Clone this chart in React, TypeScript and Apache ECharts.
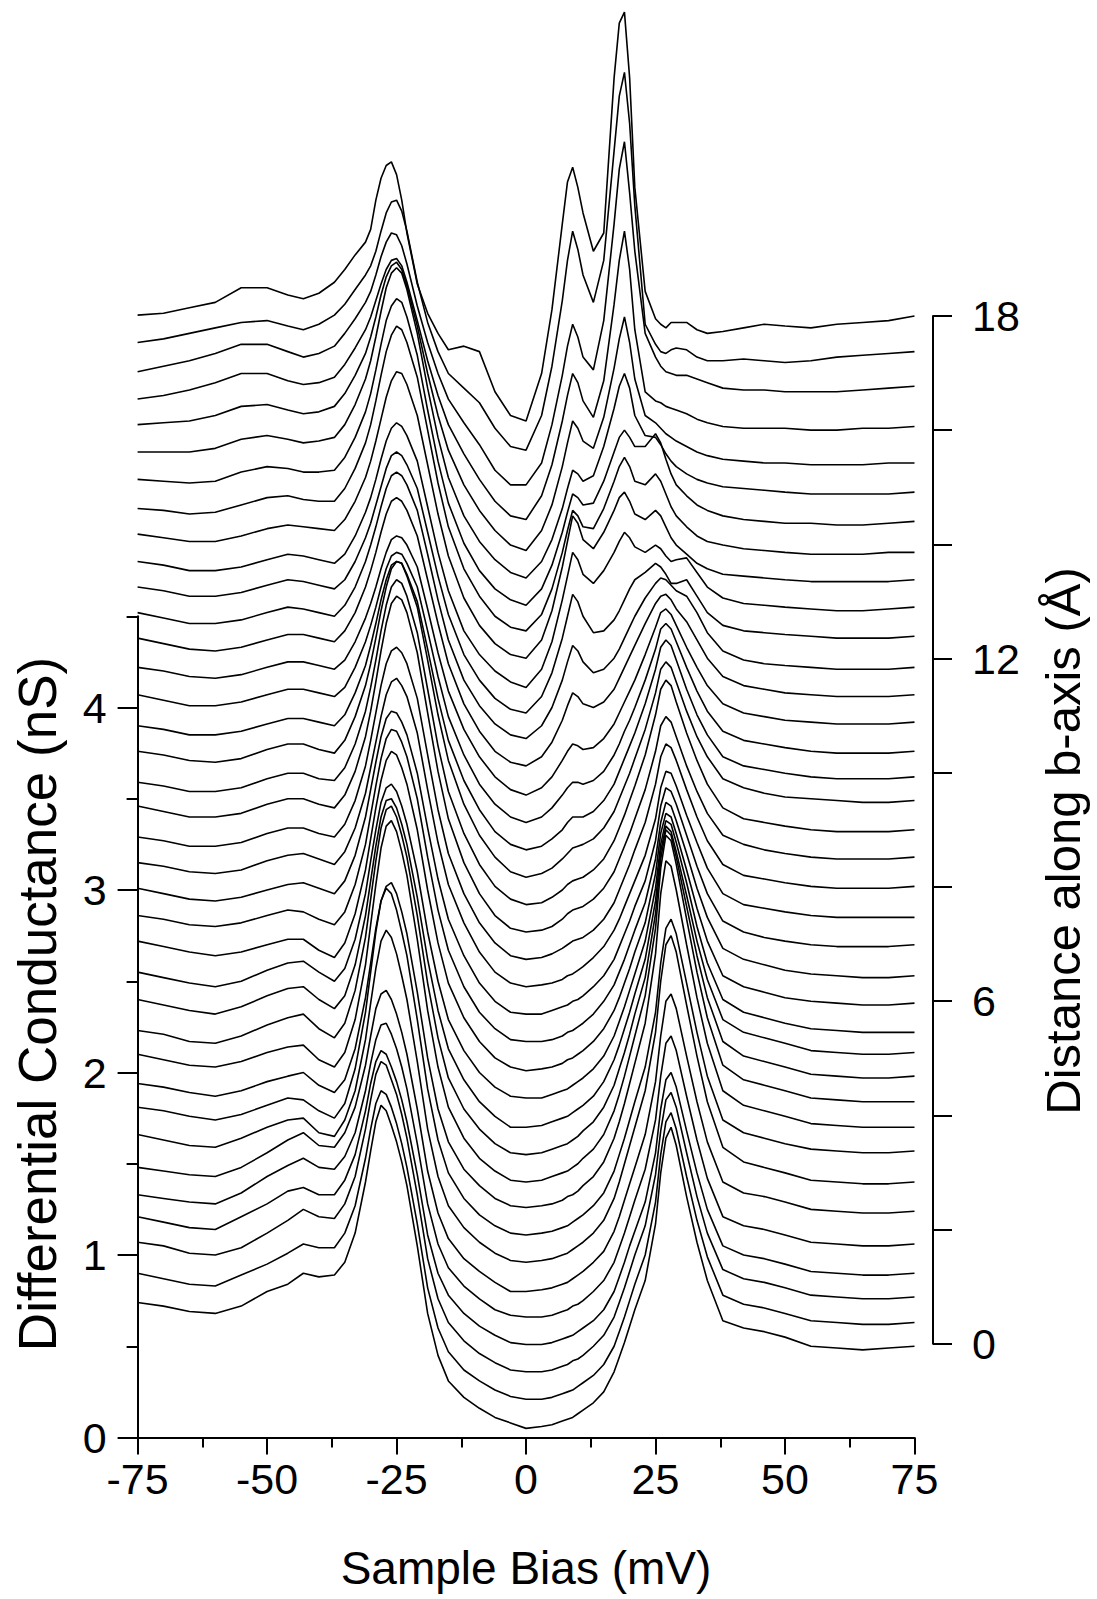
import React, { useEffect, useRef } from "react";
import * as echarts from "echarts";

const biasMV = [-75,-70,-65,-60,-55,-50,-46,-43,-40,-37,-35,-33,-31,-30,-29,-28,-27,-26,-25,-24,-23,-21,-19,-17,-15,-12,-9,-6,-3,0,3,5,7,8,9,10,11,13,15,17,18,19,20,21,23,25,26,27,28,29,31,33,35,38,42,46,50,55,60,65,70,75];

// Position along b-axis (Å) of each spectrum, bottom to top
const distanceA = [0,0.5,1,1.5,2,2.5,3,3.5,4,4.5,5,5.5,6,6.5,7,7.5,8,8.5,9,9.5,10,10.5,11,11.5,12,12.5,13,13.5,14,14.5,15,15.5,16,16.5,17,17.5,18];

// Vertical waterfall offset (nS) of each spectrum
const offsetNS = [0,0.15,0.3,0.45,0.6,0.75,0.9,1.05,1.2,1.35,1.5,1.65,1.8,1.95,2.1,2.25,2.4,2.55,2.7,2.85,3,3.15,3.3,3.45,3.6,3.75,3.9,4.05,4.2,4.35,4.5,4.65,4.8,4.95,5.1,5.25,5.4];

// Differential conductance (nS) of each spectrum, before offset
const curve00 = [0.74,0.72,0.69,0.68,0.72,0.80,0.84,0.90,0.88, 0.89,0.96,1.12,1.40, 1.57,1.73,1.82,1.79,1.71,1.62,1.51,1.38, 1.05,0.68,0.45,0.31, 0.22,0.16,0.11,0.08,0.05, 0.06,0.07,0.09,0.10,0.11,0.13,0.15, 0.19,0.25,0.36,0.44,0.52,0.61,0.70, 0.86,1.17,1.45,1.64,1.70,1.60, 1.32,1.07,0.86,0.64,0.60,0.58,0.55, 0.50,0.49,0.48,0.49,0.50];
const curve01 = [0.75,0.72,0.69,0.68,0.74,0.80,0.86,0.91,0.89, 0.89,0.97,1.12,1.38, 1.54,1.68,1.75,1.73,1.66,1.57,1.46,1.33, 1.02,0.67,0.45,0.32, 0.22,0.16,0.11,0.075,0.06, 0.06,0.07,0.09,0.10,0.11,0.13,0.15, 0.19,0.25,0.35,0.43,0.51,0.60,0.69, 0.85,1.14,1.40,1.58,1.63,1.54, 1.28,1.04,0.84,0.63,0.58,0.56,0.53, 0.49,0.48,0.47,0.47,0.48];
const curve02 = [0.77,0.75,0.71,0.70,0.74,0.82,0.89,0.95,0.91, 0.90,0.98,1.13,1.39, 1.55,1.69,1.76,1.74,1.66,1.58,1.47,1.34, 1.03,0.68,0.46,0.33, 0.23,0.16,0.11,0.07,0.06, 0.06,0.07,0.09,0.10,0.12,0.13,0.15, 0.20,0.26,0.36,0.44,0.52,0.61,0.70, 0.86,1.14,1.38,1.55,1.59,1.51, 1.26,1.02,0.82,0.62,0.57,0.55,0.52, 0.48,0.47,0.46,0.46,0.47];
const curve03 = [0.76,0.73,0.70,0.69,0.76,0.83,0.90,0.92,0.88, 0.88,0.96,1.10,1.34, 1.49,1.61,1.67,1.65,1.58,1.50,1.40,1.28, 0.99,0.66,0.45,0.33, 0.23,0.16,0.11,0.07,0.06, 0.06,0.07,0.09,0.10,0.11,0.13,0.15, 0.19,0.25,0.35,0.43,0.51,0.60,0.68, 0.84,1.11,1.35,1.51,1.55,1.47, 1.23,1.00,0.80,0.60,0.55,0.53,0.50, 0.46,0.45,0.44,0.44,0.45];
const curve04 = [0.73,0.71,0.69,0.68,0.74,0.83,0.89,0.93,0.88, 0.87,0.94,1.07,1.30, 1.45,1.58,1.66,1.67,1.61,1.53,1.43,1.31, 1.01,0.68,0.46,0.33, 0.23,0.16,0.10,0.07,0.06, 0.06,0.07,0.09,0.10,0.12,0.13,0.15, 0.20,0.26,0.36,0.44,0.52,0.61,0.70, 0.87,1.14,1.38,1.56,1.60,1.52, 1.27,1.03,0.82,0.61,0.56,0.54,0.51, 0.47,0.46,0.45,0.45,0.46];
const curve05 = [0.73,0.71,0.69,0.68,0.73,0.81,0.88,0.92,0.85, 0.84,0.92,1.06,1.29, 1.45,1.60,1.68,1.70,1.65,1.57,1.47,1.35, 1.05,0.71,0.48,0.34, 0.23,0.16,0.10,0.05,0.05, 0.06,0.07,0.09,0.10,0.12,0.14,0.16, 0.21,0.27,0.38,0.46,0.55,0.64,0.73, 0.91,1.20,1.45,1.64,1.68,1.60, 1.34,1.09,0.87,0.65,0.59,0.57,0.54, 0.50,0.49,0.48,0.48,0.49];
const curve06 = [0.76,0.73,0.70,0.69,0.74,0.80,0.84,0.85,0.77, 0.75,0.84,1.00,1.28, 1.48,1.67,1.82,1.88,1.84,1.75,1.63,1.50, 1.16,0.79,0.53,0.37, 0.25,0.17,0.11,0.07,0.06, 0.07,0.08,0.10,0.11,0.13,0.15,0.17, 0.22,0.29,0.41,0.50,0.60,0.70,0.80, 1.00,1.32,1.60,1.80,1.85,1.76, 1.47,1.19,0.94,0.69,0.61,0.58,0.55, 0.51,0.50,0.49,0.49,0.50];
const curve07 = [0.76,0.74,0.71,0.69,0.72,0.77,0.81,0.80,0.74, 0.70,0.78,0.97,1.28, 1.50,1.72,1.89,1.96,1.93,1.84,1.72,1.59, 1.24,0.86,0.58,0.40, 0.26,0.17,0.11,0.07,0.06, 0.07,0.08,0.10,0.11,0.13,0.15,0.17, 0.22,0.29,0.41,0.50,0.59,0.69,0.79, 0.98,1.28,1.55,1.74,1.79,1.71, 1.44,1.17,0.93,0.69,0.62,0.59,0.56, 0.53,0.52,0.51,0.51,0.52];
const curve08 = [0.74,0.72,0.69,0.67,0.70,0.75,0.78,0.80,0.73, 0.69,0.76,0.93,1.21, 1.40,1.59,1.74,1.82,1.84,1.78,1.68,1.56, 1.24,0.88,0.60,0.42, 0.27,0.18,0.11,0.07,0.06, 0.07,0.08,0.10,0.12,0.13,0.15,0.18, 0.23,0.31,0.44,0.53,0.63,0.74,0.85, 1.07,1.45,1.78,1.96,1.93,1.80, 1.50,1.21,0.96,0.70,0.62,0.59,0.56, 0.52,0.51,0.50,0.50,0.50];
const curve09 = [0.75,0.72,0.69,0.68,0.71,0.76,0.79,0.80,0.72, 0.68,0.76,0.94,1.24, 1.46,1.68,1.88,2.00,2.03,1.97,1.86,1.73, 1.38,0.99,0.68,0.46, 0.29,0.18,0.11,0.06,0.05, 0.06,0.08,0.10,0.11,0.13,0.15,0.18, 0.23,0.31,0.44,0.53,0.63,0.74,0.85, 1.07,1.44,1.77,1.95,1.92,1.79, 1.49,1.20,0.95,0.69,0.61,0.58,0.55, 0.51,0.50,0.49,0.49,0.49];
const curve10 = [0.73,0.71,0.67,0.66,0.70,0.76,0.80,0.82,0.74, 0.69,0.77,0.95,1.24, 1.45,1.66,1.84,1.94,1.96,1.90,1.80,1.68, 1.36,0.99,0.69,0.47, 0.30,0.19,0.11,0.06,0.05, 0.06,0.08,0.10,0.11,0.13,0.15,0.18, 0.23,0.31,0.43,0.52,0.61,0.71,0.82, 1.02,1.37,1.67,1.83,1.80,1.68, 1.41,1.14,0.91,0.67,0.59,0.56,0.53, 0.49,0.48,0.47,0.47,0.48];
const curve11 = [0.75,0.72,0.69,0.67,0.71,0.77,0.81,0.82,0.75, 0.70,0.77,0.94,1.21, 1.40,1.59,1.75,1.84,1.85,1.80,1.71,1.60, 1.31,0.97,0.69,0.48, 0.31,0.19,0.11,0.05,0.05, 0.06,0.08,0.10,0.11,0.13,0.15,0.17, 0.22,0.30,0.42,0.50,0.59,0.68,0.78, 0.97,1.29,1.56,1.70,1.67,1.56, 1.32,1.07,0.86,0.64,0.57,0.54,0.51, 0.47,0.46,0.45,0.45,0.46];
const curve12 = [0.75,0.72,0.69,0.67,0.70,0.76,0.80,0.81,0.75, 0.70,0.77,0.93,1.18, 1.36,1.53,1.68,1.76,1.78,1.74,1.66,1.56, 1.30,0.97,0.70,0.49, 0.32,0.20,0.12,0.07,0.06, 0.06,0.08,0.10,0.11,0.13,0.15,0.17, 0.22,0.29,0.40,0.48,0.56,0.65,0.74, 0.92,1.21,1.45,1.58,1.56,1.46, 1.24,1.00,0.80,0.60,0.53,0.50,0.47, 0.44,0.43,0.42,0.42,0.42];
const curve13 = [0.77,0.74,0.71,0.69,0.71,0.75,0.78,0.78,0.72, 0.68,0.76,0.92,1.16, 1.33,1.50,1.65,1.76,1.81,1.79,1.72,1.63, 1.38,1.05,0.76,0.54, 0.35,0.22,0.13,0.08,0.06, 0.07,0.08,0.10,0.12,0.13,0.15,0.17, 0.22,0.29,0.39,0.46,0.54,0.62,0.71, 0.87,1.14,1.36,1.47,1.45,1.36, 1.16,0.95,0.77,0.58,0.52,0.49,0.46, 0.44,0.43,0.42,0.42,0.43];
const curve14 = [0.76,0.74,0.71,0.70,0.72,0.76,0.79,0.78,0.74, 0.71,0.78,0.93,1.15, 1.31,1.47,1.62,1.73,1.78,1.77,1.71,1.63, 1.40,1.08,0.79,0.57, 0.37,0.23,0.14,0.08,0.07, 0.07,0.08,0.10,0.12,0.13,0.15,0.17, 0.22,0.29,0.38,0.45,0.52,0.60,0.68, 0.83,1.07,1.27,1.38,1.36,1.28, 1.10,0.91,0.75,0.58,0.52,0.49,0.46, 0.44,0.43,0.42,0.42,0.43];
const curve15 = [0.76,0.73,0.70,0.69,0.71,0.75,0.78,0.79,0.76, 0.73,0.80,0.94,1.15, 1.30,1.45,1.59,1.69,1.73,1.72,1.67,1.60, 1.39,1.09,0.81,0.59, 0.39,0.24,0.14,0.08,0.07, 0.07,0.09,0.11,0.12,0.14,0.15,0.17, 0.22,0.28,0.37,0.44,0.51,0.58,0.66, 0.80,1.02,1.21,1.31,1.29,1.22, 1.05,0.88,0.73,0.58,0.52,0.49,0.47, 0.45,0.44,0.44,0.44,0.45];
const curve16 = [0.75,0.73,0.70,0.69,0.71,0.76,0.79,0.80,0.77, 0.74,0.81,0.94,1.13, 1.27,1.41,1.55,1.67,1.74,1.76,1.72,1.66, 1.46,1.15,0.86,0.63, 0.42,0.26,0.15,0.09,0.07, 0.08,0.09,0.11,0.13,0.14,0.16,0.18, 0.23,0.29,0.38,0.44,0.51,0.58,0.65, 0.79,0.99,1.16,1.25,1.24,1.17, 1.01,0.86,0.72,0.58,0.52,0.50,0.48, 0.46,0.45,0.45,0.45,0.45];
const curve17 = [0.74,0.72,0.69,0.69,0.71,0.76,0.79,0.79,0.76, 0.74,0.81,0.94,1.13, 1.27,1.42,1.57,1.69,1.76,1.78,1.75,1.69, 1.50,1.19,0.89,0.65, 0.43,0.27,0.16,0.09,0.07, 0.08,0.10,0.13,0.15,0.17,0.18,0.19, 0.23,0.29,0.38,0.45,0.52,0.59,0.67, 0.82,1.03,1.18,1.25,1.23,1.16, 1.00,0.85,0.72,0.59,0.53,0.51,0.49, 0.47,0.46,0.46,0.46,0.47];
const curve18 = [0.76,0.73,0.70,0.70,0.72,0.77,0.80,0.80,0.77, 0.75,0.82,0.95,1.14, 1.28,1.44,1.61,1.76,1.87,1.91,1.89,1.82, 1.60,1.27,0.95,0.69, 0.45,0.28,0.16,0.09,0.07, 0.08,0.10,0.14,0.17,0.19,0.20,0.21, 0.25,0.31,0.40,0.47,0.54,0.61,0.69, 0.85,1.06,1.20,1.25,1.22,1.14, 0.98,0.84,0.72,0.60,0.55,0.52,0.50, 0.48,0.47,0.47,0.47,0.48];
const curve19 = [0.74,0.72,0.69,0.69,0.71,0.76,0.79,0.79,0.76, 0.75,0.82,0.95,1.13, 1.26,1.41,1.57,1.71,1.81,1.85,1.83,1.76, 1.56,1.25,0.94,0.69, 0.46,0.29,0.17,0.10,0.07, 0.08,0.11,0.15,0.18,0.20,0.21,0.22, 0.26,0.32,0.42,0.49,0.56,0.64,0.72, 0.89,1.11,1.25,1.30,1.27,1.18, 1.01,0.86,0.73,0.60,0.54,0.52,0.50, 0.48,0.47,0.47,0.47,0.48];
const curve20 = [0.76,0.74,0.71,0.70,0.72,0.77,0.80,0.80,0.77, 0.75,0.82,0.95,1.12, 1.24,1.38,1.53,1.66,1.76,1.80,1.79,1.72, 1.55,1.26,0.96,0.71, 0.47,0.30,0.18,0.10,0.07, 0.09,0.12,0.17,0.20,0.23,0.24,0.25, 0.28,0.34,0.43,0.50,0.57,0.64,0.72, 0.88,1.08,1.21,1.25,1.22,1.14, 0.98,0.84,0.73,0.61,0.56,0.53,0.51, 0.50,0.49,0.48,0.48,0.49];
const curve21 = [0.75,0.73,0.70,0.70,0.72,0.76,0.79,0.79,0.77, 0.75,0.81,0.93,1.08, 1.19,1.31,1.44,1.55,1.63,1.65,1.64,1.58, 1.43,1.17,0.90,0.67, 0.45,0.29,0.17,0.10,0.07, 0.09,0.13,0.18,0.22,0.25,0.25,0.25, 0.28,0.34,0.43,0.50,0.57,0.64,0.71, 0.87,1.06,1.18,1.22,1.19,1.11, 0.95,0.81,0.70,0.58,0.53,0.51,0.49, 0.47,0.46,0.46,0.46,0.47];
const curve22 = [0.77,0.74,0.71,0.71,0.73,0.77,0.80,0.80,0.78, 0.76,0.81,0.92,1.06, 1.15,1.25,1.36,1.46,1.53,1.55,1.54,1.49, 1.36,1.12,0.87,0.65, 0.44,0.28,0.17,0.10,0.07, 0.10,0.15,0.22,0.26,0.29,0.29,0.28, 0.30,0.35,0.44,0.50,0.57,0.63,0.70, 0.85,1.02,1.13,1.16,1.13,1.06, 0.92,0.79,0.68,0.57,0.52,0.50,0.48, 0.46,0.45,0.45,0.45,0.46];
const curve23 = [0.77,0.75,0.72,0.71,0.73,0.77,0.80,0.80,0.78, 0.76,0.81,0.91,1.04, 1.12,1.21,1.31,1.40,1.47,1.49,1.48,1.44, 1.32,1.09,0.85,0.64, 0.43,0.28,0.17,0.10,0.07, 0.11,0.17,0.26,0.31,0.35,0.34,0.32, 0.33,0.38,0.46,0.52,0.58,0.64,0.70, 0.84,0.99,1.07,1.09,1.06,1.00, 0.88,0.77,0.67,0.57,0.52,0.50,0.48, 0.47,0.46,0.46,0.46,0.47];
const curve24 = [0.78,0.75,0.72,0.71,0.73,0.77,0.80,0.80,0.78, 0.76,0.82,0.92,1.06, 1.15,1.25,1.36,1.46,1.53,1.55,1.53,1.48, 1.34,1.10,0.86,0.64, 0.42,0.27,0.16,0.10,0.08, 0.13,0.21,0.33,0.41,0.48,0.46,0.42, 0.40,0.43,0.50,0.56,0.62,0.68,0.74, 0.86,0.97,1.01,1.02,0.99,0.94, 0.87,0.77,0.67,0.57,0.52,0.50,0.48, 0.47,0.46,0.46,0.46,0.47];
const curve25 = [0.77,0.74,0.71,0.71,0.73,0.77,0.80,0.79,0.77, 0.75,0.81,0.91,1.05, 1.14,1.24,1.35,1.45,1.52,1.54,1.52,1.47, 1.33,1.09,0.84,0.62, 0.40,0.26,0.16,0.10,0.08, 0.15,0.25,0.40,0.50,0.59,0.56,0.50, 0.44,0.46,0.52,0.57,0.63,0.69,0.75, 0.85,0.93,0.96,0.95,0.92,0.89, 0.86,0.77,0.66,0.56,0.51,0.49,0.48, 0.47,0.46,0.46,0.46,0.47];
const curve26 = [0.76,0.74,0.71,0.71,0.73,0.77,0.80,0.79,0.77, 0.75,0.80,0.90,1.03, 1.11,1.21,1.31,1.41,1.48,1.50,1.48,1.43, 1.30,1.06,0.82,0.61, 0.39,0.25,0.15,0.09,0.07, 0.16,0.29,0.48,0.60,0.72,0.68,0.60, 0.51,0.52,0.58,0.63,0.69,0.75,0.80, 0.84,0.89,0.87,0.83,0.78,0.78, 0.80,0.71,0.62,0.55,0.52,0.51,0.50, 0.49,0.48,0.48,0.48,0.49];
const curve27 = [0.75,0.73,0.70,0.70,0.72,0.76,0.79,0.78,0.76, 0.74,0.79,0.89,1.02, 1.10,1.20,1.31,1.41,1.48,1.51,1.49,1.44, 1.30,1.05,0.80,0.59, 0.37,0.24,0.15,0.09,0.06, 0.16,0.31,0.54,0.67,0.80,0.76,0.68, 0.63,0.70,0.80,0.86,0.91,0.88,0.83, 0.80,0.84,0.82,0.78,0.75,0.76, 0.77,0.69,0.61,0.55,0.52,0.51,0.50, 0.49,0.48,0.48,0.49,0.50];
const curve28 = [0.75,0.73,0.71,0.71,0.74,0.78,0.80,0.79,0.78, 0.77,0.83,0.93,1.06, 1.15,1.26,1.38,1.50,1.59,1.64,1.63,1.57, 1.40,1.13,0.86,0.63, 0.40,0.25,0.15,0.09,0.07, 0.17,0.33,0.57,0.71,0.85,0.81,0.72, 0.67,0.76,0.88,0.95,0.98,0.93,0.86, 0.83,0.88,0.85,0.79,0.73,0.69, 0.64,0.59,0.56,0.53,0.52,0.51,0.50, 0.49,0.49,0.49,0.49,0.50];
const curve29 = [0.74,0.73,0.71,0.72,0.76,0.80,0.81,0.79,0.78, 0.78,0.85,0.96,1.10, 1.20,1.33,1.47,1.60,1.69,1.74,1.72,1.65, 1.46,1.17,0.88,0.64, 0.41,0.26,0.15,0.09,0.07, 0.16,0.30,0.50,0.62,0.73,0.70,0.64, 0.63,0.74,0.89,0.97,1.02,0.97,0.89, 0.87,0.93,0.89,0.82,0.75,0.70, 0.64,0.59,0.56,0.54,0.52,0.51,0.50, 0.49,0.49,0.49,0.50,0.50];
const curve30 = [0.75,0.74,0.73,0.74,0.79,0.82,0.81,0.79,0.79, 0.80,0.87,0.98,1.12, 1.22,1.35,1.49,1.62,1.70,1.74,1.72,1.64, 1.43,1.13,0.85,0.62, 0.40,0.25,0.15,0.09,0.06, 0.15,0.28,0.46,0.57,0.67,0.65,0.61, 0.62,0.74,0.90,0.98,1.02,0.98,0.93, 0.93,1.00,0.95,0.86,0.78,0.72, 0.66,0.61,0.58,0.55,0.53,0.52,0.51, 0.51,0.50,0.50,0.51,0.52];
const curve31 = [0.75,0.75,0.75,0.77,0.82,0.84,0.82,0.80,0.81, 0.83,0.90,1.01,1.15, 1.25,1.38,1.52,1.65,1.73,1.76,1.73,1.64, 1.40,1.10,0.83,0.61, 0.40,0.26,0.16,0.09,0.06, 0.15,0.27,0.44,0.55,0.65,0.63,0.59, 0.62,0.78,0.99,1.11,1.18,1.10,0.95, 0.84,0.83,0.79,0.74,0.70,0.67, 0.63,0.60,0.58,0.56,0.55,0.54,0.53, 0.52,0.52,0.52,0.52,0.53];
const curve32 = [0.75,0.76,0.77,0.80,0.85,0.86,0.83,0.81,0.82, 0.85,0.92,1.02,1.14, 1.23,1.34,1.46,1.56,1.62,1.64,1.60,1.51, 1.29,1.03,0.80,0.61, 0.42,0.28,0.17,0.09,0.06, 0.17,0.31,0.52,0.65,0.77,0.73,0.66, 0.62,0.79,1.06,1.22,1.34,1.20,1.00, 0.80,0.76,0.73,0.70,0.68,0.66, 0.63,0.60,0.58,0.56,0.55,0.54,0.54, 0.53,0.53,0.53,0.54,0.54];
const curve33 = [0.74,0.76,0.79,0.83,0.88,0.88,0.84,0.82,0.83, 0.86,0.93,1.02,1.12, 1.19,1.28,1.37,1.45,1.50,1.51,1.47,1.38, 1.17,0.95,0.76,0.60, 0.44,0.30,0.18,0.10,0.08, 0.21,0.38,0.62,0.76,0.88,0.83,0.73, 0.64,0.84,1.26,1.50,1.66,1.45,1.12, 0.78,0.73,0.72,0.70,0.69,0.68, 0.66,0.63,0.61,0.59,0.58,0.58,0.58, 0.57,0.57,0.58,0.58,0.59];
const curve34 = [0.74,0.77,0.80,0.84,0.89,0.89,0.85,0.82,0.84, 0.88,0.95,1.03,1.12, 1.18,1.27,1.37,1.45,1.50,1.49,1.43,1.33, 1.10,0.90,0.73,0.59, 0.46,0.34,0.20,0.12,0.12, 0.24,0.45,0.72,0.88,1.00,0.93,0.82, 0.75,1.02,1.55,1.85,2.00,1.72,1.40, 0.95,0.82,0.77,0.74,0.73,0.72, 0.72,0.70,0.68,0.65,0.64,0.64,0.63, 0.63,0.63,0.64,0.65,0.66];
const curve35 = [0.75,0.77,0.80,0.83,0.86,0.87,0.84,0.82,0.85, 0.90,0.96,1.04,1.12, 1.17,1.25,1.36,1.46,1.52,1.53,1.47,1.36, 1.08,0.86,0.70,0.58, 0.50,0.42,0.28,0.18,0.16, 0.35,0.62,0.98,1.20,1.36,1.26,1.12, 0.97,1.20,1.80,2.10,2.23,1.95,1.50, 0.85,0.74,0.70,0.69,0.71,0.72, 0.71,0.67,0.65,0.65,0.66,0.65,0.64, 0.65,0.67,0.68,0.69,0.70];
const curve36 = [0.75,0.76,0.79,0.82,0.90,0.90,0.86,0.84,0.87, 0.93,1.00,1.08,1.15, 1.22,1.38,1.50,1.57,1.59,1.52,1.38,1.20, 0.92,0.76,0.65,0.56, 0.58,0.55,0.33,0.20,0.17, 0.43,0.78,1.25,1.48,1.56,1.45,1.31, 1.10,1.20,2.05,2.35,2.41,2.05,1.45, 0.88,0.73,0.70,0.68,0.71,0.71, 0.71,0.67,0.65,0.66,0.68,0.70,0.69, 0.68,0.70,0.71,0.72,0.745];

const spectra = [curve00,curve01,curve02,curve03,curve04,curve05,curve06,curve07,curve08,curve09,curve10,curve11,curve12,curve13,curve14,curve15,curve16,curve17,curve18,curve19,curve20,curve21,curve22,curve23,curve24,curve25,curve26,curve27,curve28,curve29,curve30,curve31,curve32,curve33,curve34,curve35,curve36];

// Axis ticks
const biasTicks = [-75, -50, -25, 0, 25, 50, 75];
const conductanceTicks = [0, 1, 2, 3, 4];
const distanceTicks = [0, 6, 12, 18];

const FONT = '"Liberation Sans", Arial, Helvetica, sans-serif';

export default function App() {
  const ref = useRef<HTMLDivElement>(null);
  useEffect(() => {
    document.body.style.margin = "0";
    if (!ref.current) return;
    const chart = echarts.init(ref.current, null, { renderer: "svg" });

    const plotLeft = 137.6;
    const plotRight = 914.5;
    const zeroY = 1437.5;
    const pxPerNS = 182.5;
    const leftAxisMax = 4.5;
    const rightAxisX = 933;
    const rightTop = 316;
    const rightHeight = 1343.7 - 316;

    const series: any[] = spectra.map((vals, i) => ({
      type: "line",
      name: `${distanceA[i]} Å`,
      xAxisIndex: 0,
      yAxisIndex: 0,
      data: biasMV
        .map((x, j) => (vals[j] === undefined ? null : [x, +(vals[j] + offsetNS[i]).toFixed(3)]))
        .filter((p) => p !== null),
      showSymbol: false,
      symbol: "none",
      clip: false,
      silent: true,
      lineStyle: { color: "#000", width: 1.6 },
      z: 2,
    }));

    const tickLine = { color: "#000", width: 2 };
    const labelStyle = { color: "#000", fontSize: 43, fontFamily: FONT };

    chart.setOption({
      animation: false,
      backgroundColor: "#fff",
      grid: [
        { left: plotLeft, width: plotRight - plotLeft, top: 0, height: zeroY, containLabel: false },
        { left: plotLeft, width: plotRight - plotLeft, top: zeroY - leftAxisMax * pxPerNS, height: leftAxisMax * pxPerNS, containLabel: false },
        { left: rightAxisX - 40, width: 40, top: rightTop, height: rightHeight, containLabel: false },
      ],
      xAxis: [
        {
          gridIndex: 0,
          type: "value",
          min: biasTicks[0],
          max: biasTicks[biasTicks.length - 1],
          interval: 25,
          axisLine: { show: true, onZero: false, lineStyle: tickLine },
          axisTick: { show: true, inside: false, length: 17, lineStyle: tickLine },
          minorTick: { show: true, splitNumber: 2, length: 10, lineStyle: tickLine },
          axisLabel: { ...labelStyle, margin: 20, showMinLabel: true, showMaxLabel: true },
          splitLine: { show: false },
          minorSplitLine: { show: false },
        },
        { gridIndex: 1, type: "value", min: -75, max: 75, show: false },
        { gridIndex: 2, type: "value", min: 0, max: 1, show: false },
      ],
      yAxis: [
        { gridIndex: 0, type: "value", min: 0, max: zeroY / pxPerNS, show: false },
        {
          gridIndex: 1,
          type: "value",
          position: "left",
          min: conductanceTicks[0],
          max: leftAxisMax,
          interval: 1,
          axisLine: { show: true, onZero: false, lineStyle: tickLine },
          axisTick: { show: true, inside: false, length: 20, lineStyle: tickLine },
          axisLabel: { ...labelStyle, margin: 31, showMaxLabel: false,
            formatter: (v: number) => (conductanceTicks.includes(v) ? String(v) : "") },
          splitLine: { show: false },
        },
        {
          gridIndex: 1,
          type: "value",
          position: "left",
          min: 0,
          max: leftAxisMax,
          interval: 0.5,
          axisLine: { show: false, onZero: false },
          axisTick: { show: true, inside: false, length: 11, lineStyle: tickLine },
          axisLabel: { show: false },
          splitLine: { show: false },
        },
        {
          gridIndex: 2,
          type: "value",
          position: "right",
          min: distanceTicks[0],
          max: distanceTicks[distanceTicks.length - 1],
          interval: 6,
          axisLine: { show: true, onZero: false, lineStyle: tickLine },
          axisTick: { show: true, inside: false, length: 19, lineStyle: tickLine },
          minorTick: { show: true, splitNumber: 3, length: 19, lineStyle: tickLine },
          axisLabel: { ...labelStyle, margin: 39, showMinLabel: true, showMaxLabel: true },
          splitLine: { show: false },
          minorSplitLine: { show: false },
        },
      ],
      graphic: [
        {
          type: "text",
          x: 526,
          y: 1568,
          silent: true,
          style: { text: "Sample Bias (mV)", fill: "#000", fontSize: 46, lineHeight: 46, fontFamily: FONT, align: "center", verticalAlign: "middle" },
        },
        {
          type: "text",
          x: 37,
          y: 1004,
          rotation: Math.PI / 2,
          silent: true,
          style: { text: "Differential Conductance (nS)", fill: "#000", fontSize: 53, fontFamily: FONT, align: "center", verticalAlign: "middle" },
        },
        {
          type: "text",
          x: 1063,
          y: 841,
          rotation: Math.PI / 2,
          silent: true,
          style: { text: "Distance along b-axis (Å)", fill: "#000", fontSize: 49, fontFamily: FONT, align: "center", verticalAlign: "middle" },
        },
      ],
      series,
    });

    return () => chart.dispose();
  }, []);

  return <div ref={ref} style={{ width: 1097, height: 1599 }} />;
}
